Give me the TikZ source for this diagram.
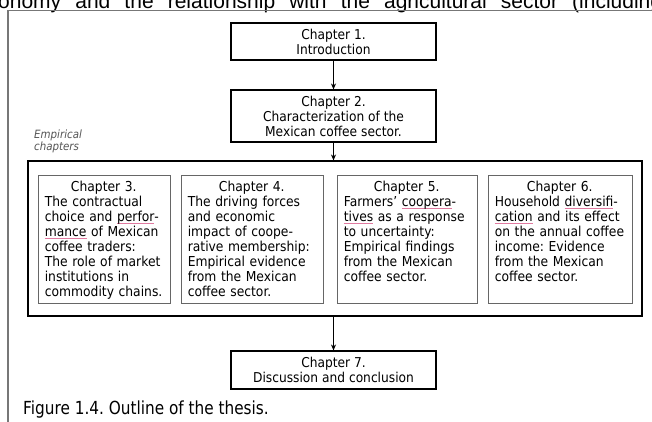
\documentclass[tikz,border=0pt]{standalone}
\usepackage{fontspec}
\setmainfont[FakeStretch=0.9]{DejaVu Sans}
\newfontfamily\captionfont[FakeStretch=0.85]{DejaVu Sans}
\newfontfamily\arialfont{Liberation Sans}
\usetikzlibrary{arrows.meta,calc}
\frenchspacing

\definecolor{framegray}{HTML}{777777}
\definecolor{boxgray}{HTML}{666666}
\definecolor{labelgray}{HTML}{555555}
\definecolor{spellpink}{HTML}{E07AA0}

% word with a thin pink underline
\newsavebox\spellbox
\newcommand\spellmark[1]{\leavevmode\sbox\spellbox{#1}\rlap{\color{spellpink}\rule[-2.6pt]{\wd\spellbox}{0.6pt}}\usebox\spellbox}

\tikzset{
  mainbox/.style={draw=black, line width=1.1pt, minimum width=205pt, inner sep=0pt,
    align=center, font=\fontsize{13.6}{15}\selectfont},
  groupbox/.style={draw=black, line width=1.1pt, inner sep=0pt},
  chapbox/.style={draw=boxgray, line width=0.8pt, minimum height=128pt, inner sep=0pt},
  chaptext/.style={anchor=north west, inner sep=0pt, font=\fontsize{13.7}{15}\selectfont},
  flow/.style={-{Stealth[length=6pt,width=5pt]}, line width=0.8pt},
}

\begin{document}
\begin{tikzpicture}[x=1pt,y=-1pt]
\useasboundingbox (0,0) rectangle (652,421);
\clip (0,0) rectangle (652,421);
\fill[white] (0,0) rectangle (652,421);

% running text above the figure frame
\node[anchor=base west, inner sep=0pt, font=\arialfont\fontsize{21}{24}\selectfont] (runon) at (-2,8)
  {\makebox[664pt][s]{onomy and the relationship with the agricultural sector (including}};

% figure frame
\draw[framegray, line width=1.3pt] (8,430) -- (8,10.5) -- (660,10.5);

% chapters
\node[mainbox, minimum height=37pt] (ch1) at (333.5,41.5) {Chapter 1.\\Introduction};
\node[mainbox, minimum height=52pt] (ch2) at (333.5,116) {Chapter 2.\\Characterization of the\\Mexican coffee sector.};

\node[anchor=north west, inner sep=0pt, align=left, text=labelgray,
  font=\itshape\fontsize{11.4}{12}\selectfont] (emplabel) at (34,130) {Empirical\\chapters};

\node[groupbox, minimum width=614pt, minimum height=155pt] (emp) at (335,238.5) {};

\node[chapbox, minimum width=132pt] (ch3) at (104,239) {};
\node[chapbox, minimum width=142pt] (ch4) at (252,239) {};
\node[chapbox, minimum width=140pt] (ch5) at (407,239) {};
\node[chapbox, minimum width=144pt] (ch6) at (560,239) {};

\node[chaptext, text width=118pt] (t3) at ($(ch3.north west)+(7,6)$)
  {\parindent=0pt\centering Chapter 3.\par\raggedright
   The contractual\\choice and \spellmark{perfor}-\\\spellmark{mance} of Mexican\\coffee traders:\\The role of market\\institutions in\\commodity chains.};
\node[chaptext, text width=128pt] (t4) at ($(ch4.north west)+(7,6)$)
  {\parindent=0pt\centering Chapter 4.\par\raggedright
   The driving forces\\and economic\\impact of coope-\\rative membership:\\Empirical evidence\\from the Mexican\\coffee sector.};
\node[chaptext, text width=126pt] (t5) at ($(ch5.north west)+(7,6)$)
  {\parindent=0pt\centering Chapter 5.\par\raggedright
   Farmers' \spellmark{coopera}-\\\spellmark{tives} as a response\\to uncertainty:\\Empirical findings\\from the Mexican\\coffee sector.};
\node[chaptext, text width=130pt] (t6) at ($(ch6.north west)+(7,6)$)
  {\parindent=0pt\centering Chapter 6.\par\raggedright
   Household \spellmark{diversifi}-\\\spellmark{cation} and its effect\\on the annual coffee\\income: Evidence\\from the Mexican\\coffee sector.};

\node[mainbox, minimum height=38pt] (ch7) at (333.5,370) {Chapter 7.\\Discussion and conclusion};

% connectors
\draw[flow] (ch1) -- (ch2);
\draw[flow] (ch2) -- (ch2.south |- emp.north);
\draw[flow] (emp.south -| ch7.north) -- (ch7);

% caption
\node[anchor=base west, inner sep=0pt, font=\captionfont\fontsize{18}{20}\selectfont] (caption) at (23,414)
  {Figure 1.4. Outline of the thesis.};
\end{tikzpicture}
\end{document}
